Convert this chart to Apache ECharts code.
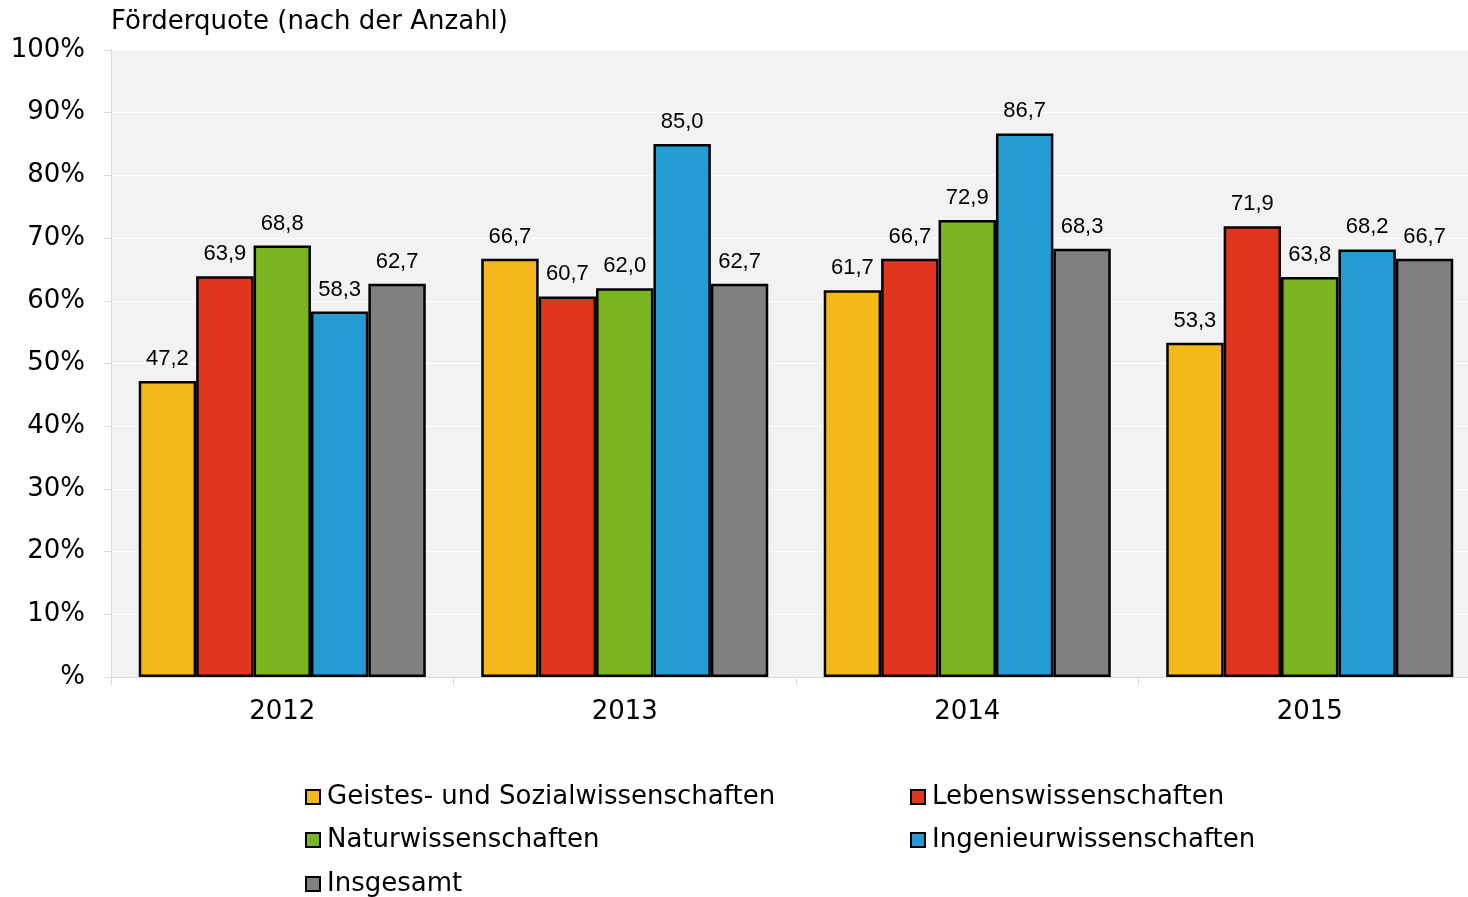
<!DOCTYPE html>
<html>
<head>
<meta charset="utf-8">
<script src="https://cdn.jsdelivr.net/npm/echarts@6/dist/echarts.min.js"></script>
<style>
  html, body { margin: 0; padding: 0; background: #fff; }
  #chart { width: 1468px; height: 897px; }
</style>
</head>
<body>
<div id="chart"></div>
<script>
const years = ["2012", "2013", "2014", "2015"];
const geistes = [47.2, 66.7, 61.7, 53.3];
const lebens = [63.9, 60.7, 66.7, 71.9];
const natur = [68.8, 62.0, 72.9, 63.8];
const ingenieur = [58.3, 85.0, 86.7, 68.2];
const insgesamt = [62.7, 62.7, 68.3, 66.7];
const seriesNames = [
  "Geistes- und Sozialwissenschaften",
  "Lebenswissenschaften",
  "Naturwissenschaften",
  "Ingenieurwissenschaften",
  "Insgesamt"
];
const colors = ["#f5b81a", "#e0351e", "#7ab41f", "#259bd3", "#808080"];
// legend slot for each series: [left, top]
const legendSlots = [[305, 784], [910, 784], [305, 827], [910, 827], [305, 871]];

const el = echarts.init(document.getElementById("chart"));
const FONT = "DejaVu Sans, Verdana, sans-serif";

function makeSeries(name, data, idx) {
  return {
    name: name,
    type: "bar",
    data: data,
    barGap: "0%",
    barCategoryGap: "16.2%",
    itemStyle: {
      color: colors[idx],
      borderColor: "#000",
      borderWidth: 2.5
    },
    label: {
      show: true,
      position: "top",
      distance: 11,
      color: "#000",
      fontFamily: "Liberation Sans, Arial, sans-serif",
      fontSize: 22,
      formatter: function (p) {
        return p.value.toFixed(1).replace(".", ",");
      }
    }
  };
}

const legends = seriesNames.map(function (name, i) {
  return {
    data: [name],
    left: legendSlots[i][0],
    top: legendSlots[i][1],
    padding: 0,
    icon: "rect",
    itemWidth: 14,
    itemHeight: 14,
    itemStyle: { borderColor: "#000", borderWidth: 2 },
    textStyle: {
      fontFamily: FONT,
      fontSize: 26,
      color: "#000",
      padding: [0, 0, 0, 2]
    }
  };
});

const options = {
  animation: false,
  title: {
    text: "Förderquote (nach der Anzahl)",
    left: 106,
    top: 4,
    textStyle: {
      fontFamily: FONT,
      fontSize: 26,
      fontWeight: "normal",
      color: "#000"
    }
  },
  legend: legends,
  grid: {
    left: 111,
    right: -13,
    top: 50,
    bottom: 220,
    outerBoundsMode: "none",
    containLabel: false,
    show: true,
    backgroundColor: "#f2f2f2",
    borderWidth: 0
  },
  xAxis: {
    type: "category",
    data: years,
    axisLine: { show: true, lineStyle: { color: "#d9d9d9", width: 1 } },
    axisTick: { show: true, length: 8, lineStyle: { color: "#d9d9d9" } },
    axisLabel: {
      fontFamily: FONT,
      fontSize: 26,
      color: "#000",
      margin: 22
    }
  },
  yAxis: {
    type: "value",
    min: 0,
    max: 100,
    interval: 10,
    axisLine: { show: true, lineStyle: { color: "#d9d9d9" } },
    axisTick: { show: true, length: 7, lineStyle: { color: "#d9d9d9" } },
    splitLine: { show: true, lineStyle: { color: "#ffffff", width: 1 } },
    axisLabel: {
      fontFamily: FONT,
      fontSize: 26,
      color: "#000",
      margin: 26,
      formatter: function (v) {
        return v === 0 ? "%" : v + "%";
      }
    }
  },
  series: [
    makeSeries(seriesNames[0], geistes, 0),
    makeSeries(seriesNames[1], lebens, 1),
    makeSeries(seriesNames[2], natur, 2),
    makeSeries(seriesNames[3], ingenieur, 3),
    makeSeries(seriesNames[4], insgesamt, 4)
  ]
};

el.setOption(options);
</script>
</body>
</html>
